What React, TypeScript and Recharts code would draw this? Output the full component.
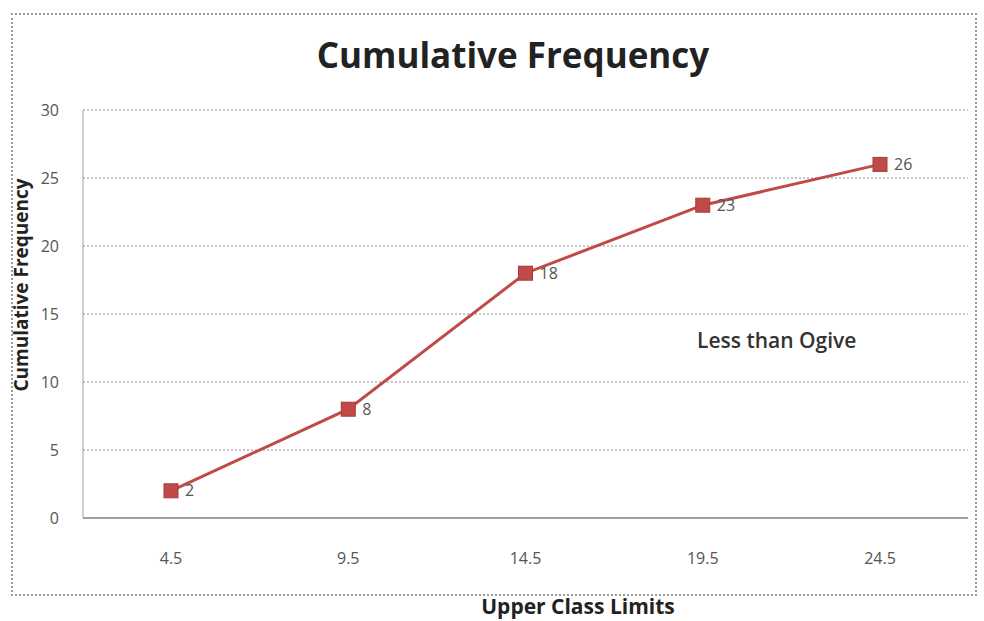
import React from 'react';
import { LineChart, Line, XAxis, YAxis, CartesianGrid, LabelList } from 'recharts';

const limits = ['4.5', '9.5', '14.5', '19.5', '24.5'];
const cumulative = [2, 8, 18, 23, 26];
const yTicks = [0, 5, 10, 15, 20, 25, 30];

const data = limits.map((limit, i) => ({ limit, value: cumulative[i] }));

const FONT = '"Open Sans", Lato, sans-serif';
const RED = '#bf4a47';

const SquareDot = (props: any) => {
  const { cx, cy } = props;
  if (cx == null || cy == null) return null;
  return <rect x={cx - 7} y={cy - 7} width={14} height={14} fill={RED} stroke="#a33c39" strokeWidth={1} />;
};

export default function App() {
  return (
    <div style={{ position: 'absolute', left: 0, top: 0, width: 984, height: 621, background: '#fff', fontFamily: FONT }}>
      <div
        style={{
          position: 'absolute',
          left: 11,
          top: 13,
          width: 966,
          height: 583,
          border: '2px dotted #9a9a9a',
          boxSizing: 'border-box',
        }}
      />
      <LineChart width={984} height={621} data={data} margin={{ top: 110, right: 16, bottom: 73, left: 23 }}>
        <CartesianGrid vertical={false} stroke="#8c8c8c" strokeDasharray="2 2" />
        <XAxis
          dataKey="limit"
          height={30}
          padding={{ left: 88, right: 88 }}
          tickLine={false}
          axisLine={{ stroke: '#a0a0a0', strokeWidth: 2 }}
          tick={{ fill: '#555', fontSize: 16, fontFamily: FONT }}
          tickMargin={29}
        />
        <YAxis
          width={60}
          domain={[0, 30]}
          ticks={yTicks}
          tickLine={false}
          axisLine={{ stroke: '#a0a0a0', strokeWidth: 1 }}
          tick={{ fill: '#555', fontSize: 16, fontFamily: FONT }}
          tickMargin={18}
        />
        <Line
          type="linear"
          dataKey="value"
          stroke={RED}
          strokeWidth={3}
          dot={<SquareDot />}
          activeDot={false}
          isAnimationActive={false}
        >
          <LabelList dataKey="value" position="right" offset={14} fill="#555" fontSize={16} fontFamily={FONT} />
        </Line>
      </LineChart>
      <div
        style={{
          position: 'absolute',
          left: 0,
          width: 1026,
          top: 31,
          textAlign: 'center',
          fontSize: 35,
          fontWeight: 700,
          color: '#222',
        }}
      >
        Cumulative Frequency
      </div>
      <div
        style={{
          position: 'absolute',
          left: 697,
          top: 326,
          fontSize: 21,
          fontWeight: 600,
          color: '#333',
        }}
      >
        Less than Ogive
      </div>
      <div
        style={{
          position: 'absolute',
          left: 0,
          width: 1156,
          top: 592,
          textAlign: 'center',
          fontSize: 21,
          fontWeight: 700,
          color: '#222',
        }}
      >
        Upper Class Limits
      </div>
      <div
        style={{
          position: 'absolute',
          left: 21,
          top: 285,
          transform: 'translate(-50%, -50%) rotate(-90deg)',
          whiteSpace: 'nowrap',
          fontSize: 19,
          fontWeight: 700,
          color: '#222',
        }}
      >
        Cumulative Frequency
      </div>
    </div>
  );
}
